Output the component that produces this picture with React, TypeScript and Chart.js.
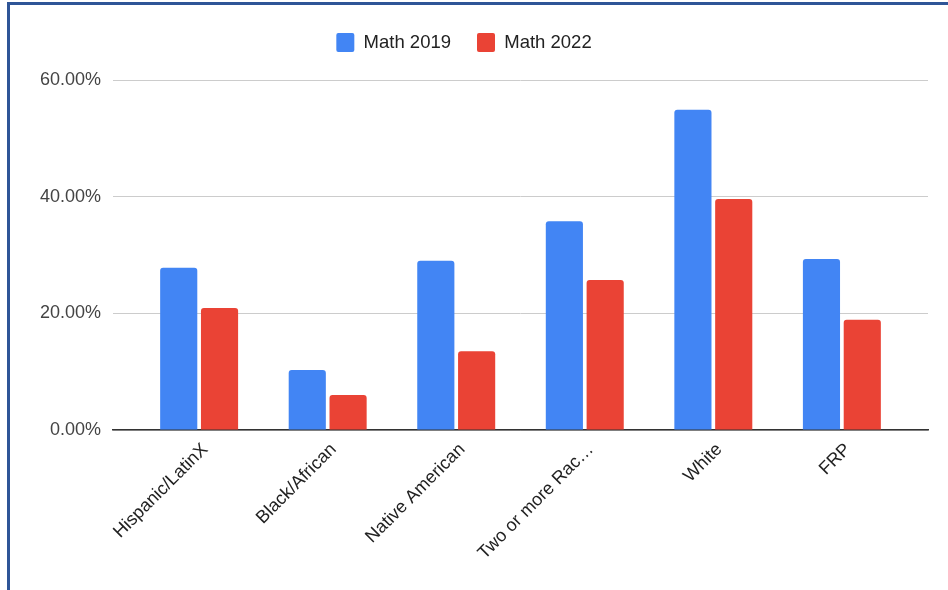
import React, { useEffect, useRef } from "react";
import { Chart, registerables } from "chart.js";

Chart.register(...registerables);

const categories = ["Hispanic/LatinX", "Black/African", "Native American", "Two or more Rac…", "White", "FRP"];
const math2019 = [27.8, 10.3, 29.0, 35.8, 54.9, 29.3];
const math2022 = [20.9, 6.0, 13.5, 25.7, 39.6, 18.9];
const seriesNames = ["Math 2019", "Math 2022"];
const yTicks = [0, 20, 40, 60];

export default function App() {
  const ref = useRef<HTMLCanvasElement>(null);

  useEffect(() => {
    document.body.style.margin = "0";
    const toPoints = (arr: number[]) => arr.map((y, i) => ({ x: i, y }));
    const chart = new Chart(ref.current as HTMLCanvasElement, {
      type: "bar",
      data: {
        datasets: [
          {
            label: seriesNames[0],
            data: toPoints(math2019),
            backgroundColor: "#4285f4",
            borderRadius: 3,
            categoryPercentage: 0.635,
            barPercentage: 0.91,
          },
          {
            label: seriesNames[1],
            data: toPoints(math2022),
            backgroundColor: "#ea4335",
            borderRadius: 3,
            categoryPercentage: 0.635,
            barPercentage: 0.91,
          },
        ],
      },
      options: {
        animation: false,
        responsive: false,
        layout: { padding: { top: 7, right: 20, left: 0, bottom: 0 } },
        plugins: {
          tooltip: { enabled: false },
          title: {
            display: true,
            text: "",
            weight: 500,
            padding: 0,
            font: { size: 18, lineHeight: 1 },
          },
          legend: {
            position: "top",
            weight: 1000,
            labels: {
              boxWidth: 18,
              boxHeight: 19,
              padding: 26,
              color: "#222",
              useBorderRadius: true,
              borderRadius: 2,
              font: { family: "Liberation Sans, Arial, sans-serif", size: 18.5 },
            },
          },
        },
        scales: {
          x: {
            type: "linear",
            offset: false,
            min: -0.67,
            max: 5.67,
            grid: { display: false, drawTicks: false },
            border: { display: true, color: "#333", width: 1.5 },
            afterBuildTicks: (scale: any) => {
              scale.ticks = categories.map((_, i) => ({ value: i }));
            },
            afterFit: (scale: any) => {
              scale.height = 160;
            },
            ticks: {
              autoSkip: false,
              minRotation: 45,
              maxRotation: 45,
              padding: 9,
              labelOffset: 6,
              color: "#222",
              font: { family: "Liberation Sans, Arial, sans-serif", size: 18 },
              callback: (v: any) => categories[v as number] ?? "",
            },
          },
          y: {
            min: 0,
            max: 60,
            afterBuildTicks: (scale: any) => {
              scale.ticks = yTicks.map((v) => ({ value: v }));
            },
            afterFit: (scale: any) => {
              scale.width = 113;
            },
            grid: { color: "#cccccc", drawTicks: false },
            border: { display: false },
            ticks: {
              padding: 12,
              color: "#444",
              font: { family: "Liberation Sans, Arial, sans-serif", size: 18 },
              callback: (v: any) => Number(v).toFixed(2) + "%",
            },
          },
        },
      },
    } as any);
    return () => chart.destroy();
  }, []);

  return (
    <div style={{ position: "relative", width: 948, height: 590, overflow: "hidden", background: "#fff" }}>
      <canvas ref={ref} width={948} height={590} style={{ position: "absolute", left: 0, top: 0 }} />
      <div
        style={{
          position: "absolute",
          left: 7,
          top: 2,
          width: 960,
          height: 600,
          borderLeft: "3px solid #2f5597",
          borderTop: "3px solid #2f5597",
          pointerEvents: "none",
        }}
      />
    </div>
  );
}
